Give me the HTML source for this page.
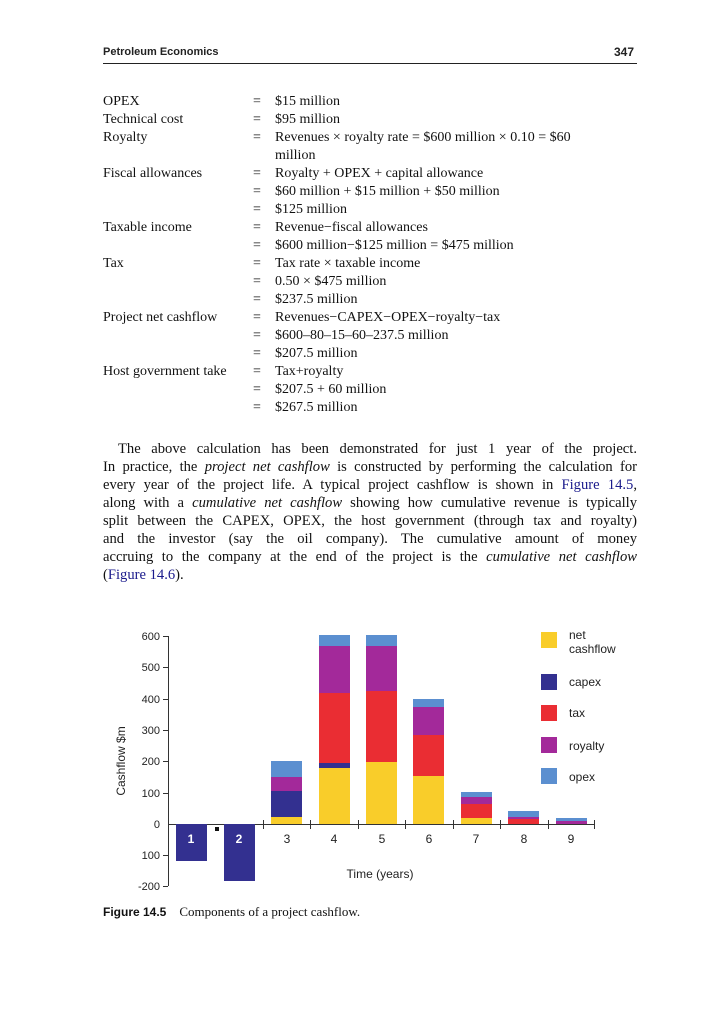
<!DOCTYPE html>
<html><head><meta charset="utf-8"><style>
body{margin:0;width:703px;height:1024px;background:#fff;position:relative;overflow:hidden;font-family:"Liberation Serif",serif;color:#111}
.a{position:absolute;white-space:nowrap}
.t{font-size:14px;line-height:18px}
.j{position:absolute;left:103px;width:534px;font-size:14.6px;line-height:18px;text-align:justify;text-align-last:justify;white-space:nowrap}
.b{color:#1a1a8c}
svg text{font-family:"Liberation Sans",sans-serif}
</style></head><body>
<div class="a" style="left:103px;top:46px;font-family:'Liberation Sans',sans-serif;font-size:11px;font-weight:bold;color:#222">Petroleum Economics</div>
<div class="a" style="left:614px;top:45px;font-family:'Liberation Sans',sans-serif;font-size:12px;font-weight:bold;color:#222">347</div>
<div class="a" style="left:103px;top:63px;width:534px;height:1px;background:#222"></div>

<div class="a t" style="left:103px;top:93px">OPEX<br>Technical cost<br>Royalty<br><br>Fiscal allowances<br><br><br>Taxable income<br><br>Tax<br><br><br>Project net cashflow<br><br><br>Host government take</div>
<div class="a t" style="left:253px;top:93px">=<br>=<br>=<br><br>=<br>=<br>=<br>=<br>=<br>=<br>=<br>=<br>=<br>=<br>=<br>=<br>=<br>=</div>
<div class="a t" style="left:275px;top:93px">$15 million<br>$95 million<br>Revenues × royalty rate = $600 million × 0.10 = $60<br>million<br>Royalty + OPEX + capital allowance<br>$60 million + $15 million + $50 million<br>$125 million<br>Revenue−fiscal allowances<br>$600 million−$125 million = $475 million<br>Tax rate × taxable income<br>0.50 × $475 million<br>$237.5 million<br>Revenues−CAPEX−OPEX−royalty−tax<br>$600–80–15–60–237.5 million<br>$207.5 million<br>Tax+royalty<br>$207.5 + 60 million<br>$267.5 million</div>

<div class="j" style="top:440px;left:118px;width:519px">The above calculation has been demonstrated for just 1 year of the project.</div>
<div class="j" style="top:458px">In practice, the <i>project net cashflow</i> is constructed by performing the calculation for</div>
<div class="j" style="top:476px">every year of the project life. A typical project cashflow is shown in <span class="b">Figure 14.5</span>,</div>
<div class="j" style="top:494px">along with a <i>cumulative net cashflow</i> showing how cumulative revenue is typically</div>
<div class="j" style="top:512px">split between the CAPEX, OPEX, the host government (through tax and royalty)</div>
<div class="j" style="top:530px">and the investor (say the oil company). The cumulative amount of money</div>
<div class="j" style="top:548px">accruing to the company at the end of the project is the <i>cumulative net cashflow</i></div>
<div class="a" style="top:566px;left:103px;font-size:14.6px;line-height:18px">(<span class="b">Figure 14.6</span>).</div>

<svg class="a" style="left:0;top:0" width="703" height="1024" viewBox="0 0 703 1024">
<g stroke="#333" stroke-width="1" fill="none">
<line x1="168.5" y1="636" x2="168.5" y2="886"/>
<line x1="168" y1="824.5" x2="595" y2="824.5"/>
<line x1="163" y1="636.5" x2="168" y2="636.5"/><line x1="163" y1="667.5" x2="168" y2="667.5"/><line x1="163" y1="699.5" x2="168" y2="699.5"/><line x1="163" y1="730.5" x2="168" y2="730.5"/><line x1="163" y1="761.5" x2="168" y2="761.5"/><line x1="163" y1="793.5" x2="168" y2="793.5"/><line x1="163" y1="855.5" x2="168" y2="855.5"/><line x1="163" y1="886.5" x2="168" y2="886.5"/>
<line x1="263.5" y1="820" x2="263.5" y2="829"/><line x1="310.5" y1="820" x2="310.5" y2="829"/><line x1="358.5" y1="820" x2="358.5" y2="829"/><line x1="405.5" y1="820" x2="405.5" y2="829"/><line x1="453.5" y1="820" x2="453.5" y2="829"/><line x1="500.5" y1="820" x2="500.5" y2="829"/><line x1="548.5" y1="820" x2="548.5" y2="829"/><line x1="594.5" y1="820" x2="594.5" y2="829"/>
</g>
<g font-size="11" fill="#222" text-anchor="end">
<text x="160" y="640">600</text><text x="160" y="671">500</text><text x="160" y="703">400</text><text x="160" y="734">300</text><text x="160" y="765">200</text><text x="160" y="797">100</text><text x="160" y="828">0</text><text x="160" y="859">100</text><text x="160" y="890">-200</text>
</g>
<text transform="translate(125,761) rotate(-90)" font-size="12" fill="#222" text-anchor="middle">Cashflow $m</text>
<!-- bars -->
<rect x="176" y="824" width="31" height="37" fill="#333090"/>
<rect x="224" y="824" width="31" height="57" fill="#333090"/>
<rect x="215" y="827" width="4" height="4" fill="#111"/>
<!-- 3 -->
<rect x="271" y="761" width="31" height="16" fill="#5B8FD0"/><rect x="271" y="777" width="31" height="14" fill="#A3299A"/><rect x="271" y="791" width="31" height="26" fill="#333090"/><rect x="271" y="817" width="31" height="7" fill="#F9CD2A"/>
<!-- 4 -->
<rect x="319" y="635" width="31" height="11" fill="#5B8FD0"/><rect x="319" y="646" width="31" height="47" fill="#A3299A"/><rect x="319" y="693" width="31" height="70" fill="#EA2D33"/><rect x="319" y="763" width="31" height="5" fill="#333090"/><rect x="319" y="768" width="31" height="56" fill="#F9CD2A"/>
<!-- 5 -->
<rect x="366" y="635" width="31" height="11" fill="#5B8FD0"/><rect x="366" y="646" width="31" height="45" fill="#A3299A"/><rect x="366" y="691" width="31" height="71" fill="#EA2D33"/><rect x="366" y="762" width="31" height="62" fill="#F9CD2A"/>
<!-- 6 -->
<rect x="413" y="699" width="31" height="8" fill="#5B8FD0"/><rect x="413" y="707" width="31" height="28" fill="#A3299A"/><rect x="413" y="735" width="31" height="41" fill="#EA2D33"/><rect x="413" y="776" width="31" height="48" fill="#F9CD2A"/>
<!-- 7 -->
<rect x="461" y="792" width="31" height="5" fill="#5B8FD0"/><rect x="461" y="797" width="31" height="7" fill="#A3299A"/><rect x="461" y="804" width="31" height="14" fill="#EA2D33"/><rect x="461" y="818" width="31" height="6" fill="#F9CD2A"/>
<!-- 8 -->
<rect x="508" y="811" width="31" height="6" fill="#5B8FD0"/><rect x="508" y="817" width="31" height="2" fill="#A3299A"/><rect x="508" y="819" width="31" height="5" fill="#EA2D33"/>
<!-- 9 -->
<rect x="556" y="818" width="31" height="3" fill="#5B8FD0"/><rect x="556" y="821" width="31" height="3" fill="#A3299A"/>
<g font-size="12" text-anchor="middle">
<text x="191" y="843" fill="#fff" font-weight="bold">1</text><text x="239" y="843" fill="#fff" font-weight="bold">2</text>
<g fill="#222"><text x="287" y="843">3</text><text x="334" y="843">4</text><text x="382" y="843">5</text><text x="429" y="843">6</text><text x="476" y="843">7</text><text x="524" y="843">8</text><text x="571" y="843">9</text></g>
</g>
<text x="380" y="878" font-size="12" fill="#222" text-anchor="middle">Time (years)</text>
<!-- legend -->
<rect x="541" y="632" width="16" height="16" fill="#F9CD2A"/><rect x="541" y="674" width="16" height="16" fill="#333090"/><rect x="541" y="705" width="16" height="16" fill="#EA2D33"/><rect x="541" y="737" width="16" height="16" fill="#A3299A"/><rect x="541" y="768" width="16" height="16" fill="#5B8FD0"/>
<g font-size="12" fill="#222"><text x="569" y="639">net</text><text x="569" y="653">cashflow</text><text x="569" y="686">capex</text><text x="569" y="717">tax</text><text x="569" y="750">royalty</text><text x="569" y="781">opex</text></g>
</svg>
<div class="a" style="left:103px;top:904px;font-size:13px"><b style="font-family:'Liberation Sans',sans-serif;font-size:12px">Figure 14.5</b>&nbsp;&nbsp;&nbsp; Components of a project cashflow.</div>
</body></html>
